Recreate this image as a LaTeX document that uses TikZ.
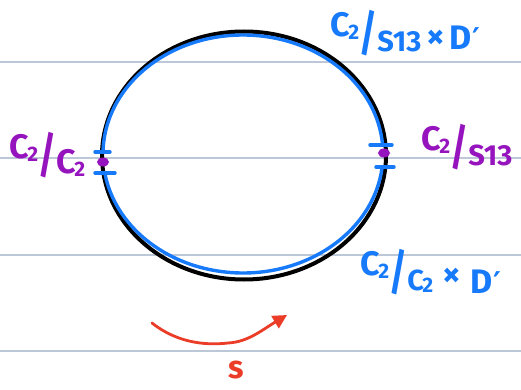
\documentclass[tikz,border=0pt]{standalone}
\usepackage{fontspec}
\usepackage{graphicx}
\setmainfont{Fira Sans}
\newfontfamily\dvs{DejaVu Sans}
\usetikzlibrary{arrows.meta,shapes.geometric}
\definecolor{rulec}{RGB}{188,200,216}
\definecolor{inkblue}{RGB}{22,122,250}
\definecolor{inkpurple}{RGB}{150,20,190}
\definecolor{inkred}{RGB}{235,60,40}
\newcommand{\bigf}{\fontsize{34}{34}\selectfont\bfseries}
\newcommand{\subf}{\fontsize{21}{21}\selectfont}
\newcommand{\lowf}{\fontsize{29}{29}\selectfont}
\newcommand{\crossf}{\fontsize{36}{36}\selectfont}
\newcommand{\bslash}{\raisebox{-14pt}{\scalebox{1.0}[1.45]{/}}}
\newcommand{\qlab}[1]{C\kern-1.5pt\raisebox{-3pt}{\subf 2}\kern0.5pt\bslash\kern0pt\raisebox{-15pt}{#1}}
\newcommand{\dprime}{D\kern1pt{\dvs\fontsize{30}{30}\selectfont ′}}
\tikzset{
  notebook/.style={rulec, line width=1.2pt},
  outline/.style={black, line width=4pt},
  bluearc/.style={inkblue, line width=3.4pt, line cap=round},
  tick/.style={inkblue, line width=3.4pt, line cap=round},
  blab/.style={inkblue, font=\bigf, inner sep=0pt},
  plab/.style={inkpurple, font=\bigf, inner sep=0pt},
  pdot/.style={inkpurple, fill=inkpurple, ellipse, minimum width=12pt, minimum height=9pt, inner sep=0pt},
  redarrow/.style={inkred, line width=2.8pt, line cap=round, -{Triangle[length=14pt,width=14pt]}}
}
\begin{document}
\begin{tikzpicture}[x=1pt,y=-1pt]
\useasboundingbox[fill=white] (0,0) rectangle (521,390);
% notebook lines
\foreach \yy in {62,158,255,351}{
  \draw[notebook] (0,\yy) -- (521,\yy);
}
% black outline
\draw[outline] (244,155.5) ellipse [x radius=142, y radius=124];
% blue arcs
\coordinate (bc) at (243,154);
\draw[bluearc] ([shift={(181:140 and 119)}]bc) arc[start angle=181, end angle=355.7, x radius=140, y radius=119];
\draw[bluearc] ([shift={(6.3:140 and 119)}]bc) arc[start angle=6.3, end angle=170.8, x radius=140, y radius=119];
% ticks
\coordinate (tl1) at (102,152);
\coordinate (tl2) at (103,173);
\coordinate (tr1) at (381,145);
\coordinate (tr2) at (385,167);
\draw[tick] ([xshift=-7pt]tl1) -- ([xshift=8pt]tl1);
\draw[tick] ([xshift=-8pt]tl2) -- ([xshift=12pt]tl2);
\draw[tick] ([xshift=-11pt]tr1) -- ([xshift=11pt]tr1);
\draw[tick] ([xshift=-9pt]tr2) -- ([xshift=9pt]tr2);
% purple dots
\node[pdot] (dl) at (103,162) {};
\node[pdot] (dr) at (384,153) {};
% labels
\node[blab, anchor=base west] (top) at (330,37) {\qlab{\lowf S13}\kern5pt\raisebox{-12pt}{\crossf×}\kern4pt\raisebox{-13pt}{\dprime}};
\node[plab, anchor=base west] (left) at (9,158) {\qlab{C\kern-1.5pt\raisebox{-3pt}{\subf 2}}};
\node[plab, anchor=base west] (right) at (421,150) {\qlab{\lowf S13}};
\node[blab, anchor=base west] (bot) at (360,275) {\qlab{\lowf C\kern-1.5pt\raisebox{-2pt}{\subf 2}}\kern9pt\raisebox{-11pt}{\crossf×}\kern9pt\raisebox{-18pt}{\dprime}};
% red arrow
\coordinate (ra) at (152,323);
\coordinate (rm) at (228,343);
\coordinate (rb) at (287,315);
\draw[redarrow] (ra) .. controls (180,345) and (210,345) .. (rm) .. controls (248,342) and (262,330) .. (rb);
\node[inkred, font=\fontsize{32}{32}\selectfont\bfseries, inner sep=0pt] (s) at (236,370) {s};
\end{tikzpicture}
\end{document}
